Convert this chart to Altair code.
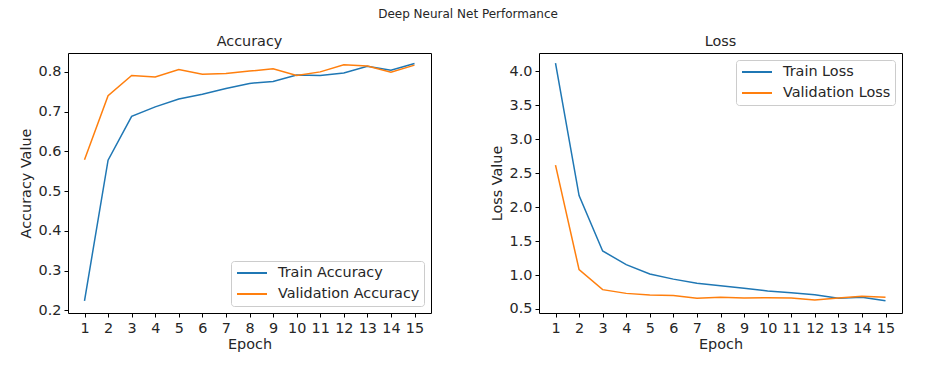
import altair as alt
import pandas as pd

epochs = list(range(1, 16))
train_acc = [0.224, 0.578, 0.688, 0.712, 0.732, 0.744, 0.758, 0.771, 0.776, 0.792, 0.791, 0.797, 0.814, 0.804, 0.821]
val_acc = [0.579, 0.740, 0.791, 0.787, 0.806, 0.794, 0.796, 0.802, 0.808, 0.791, 0.800, 0.818, 0.815, 0.799, 0.817]
train_loss = [4.12, 2.17, 1.355, 1.153, 1.016, 0.94, 0.878, 0.844, 0.804, 0.766, 0.74, 0.71, 0.657, 0.672, 0.623]
val_loss = [2.62, 1.08, 0.785, 0.73, 0.707, 0.70, 0.657, 0.672, 0.663, 0.667, 0.663, 0.634, 0.663, 0.686, 0.672]

acc_names = ["Train Accuracy", "Validation Accuracy"]
loss_names = ["Train Loss", "Validation Loss"]
acc_ticks = [0.2, 0.3, 0.4, 0.5, 0.6, 0.7, 0.8]
loss_ticks = [0.5, 1.0, 1.5, 2.0, 2.5, 3.0, 3.5, 4.0]
colors = ["#1f77b4", "#ff7f0e"]

FONT = "DejaVu Sans"
TXT = "#262626"
FS = 14.4

acc_df = pd.DataFrame({
    "Epoch": epochs * 2,
    "Value": train_acc + val_acc,
    "Series": [acc_names[0]] * 15 + [acc_names[1]] * 15,
})
loss_df = pd.DataFrame({
    "Epoch": epochs * 2,
    "Value": train_loss + val_loss,
    "Series": [loss_names[0]] * 15 + [loss_names[1]] * 15,
})


def panel(df, names, title, ytitle, ydomain, yticks, lorient):
    return alt.Chart(df).mark_line(strokeWidth=1.5).encode(
        x=alt.X("Epoch:Q",
                scale=alt.Scale(domain=[0.3, 15.7], nice=False, zero=False),
                axis=alt.Axis(values=epochs, format="d", title="Epoch",
                              labelPadding=4, titlePadding=3)),
        y=alt.Y("Value:Q",
                scale=alt.Scale(domain=ydomain, nice=False, zero=False),
                axis=alt.Axis(values=yticks, format=".1f", title=ytitle)),
        color=alt.Color("Series:N",
                        scale=alt.Scale(domain=names, range=colors),
                        legend=alt.Legend(
                            title=None, orient=lorient, offset=7,
                            symbolType="stroke", symbolSize=900, symbolStrokeWidth=2,
                            labelFontSize=FS, labelFont=FONT, labelColor=TXT,
                            labelOffset=10, padding=4, rowPadding=5, clipHeight=16,
                            symbolOffset=1,
                            strokeColor="#cccccc", fillColor="white", cornerRadius=3,
                        )),
    ).properties(
        width=363, height=260,
        title=alt.TitleParams(title, fontSize=FS, font=FONT, fontWeight="normal",
                              color=TXT, anchor="middle", offset=4),
    )


left = panel(acc_df, acc_names, "Accuracy", "Accuracy Value", [0.1935, 0.8475], acc_ticks, "bottom-right")
right = panel(loss_df, loss_names, "Loss", "Loss Value", [0.441, 4.27], loss_ticks, "top-right")

chart = alt.hconcat(left, right, spacing=56).resolve_scale(
    color="independent"
).properties(
    title=alt.TitleParams("Deep Neural Net Performance", fontSize=12, font=FONT,
                          fontWeight="normal", color=TXT, anchor="middle", offset=12,
                          dx=8),
    padding={"left": 9, "top": 0, "right": 5, "bottom": 5},
).configure_view(
    stroke="black", strokeWidth=1
).configure_axis(
    labelFont=FONT, labelFontSize=FS, labelColor=TXT,
    titleFont=FONT, titleFontSize=FS, titleFontWeight="normal", titleColor=TXT,
    tickColor="black", tickSize=4, tickWidth=1,
    domain=False, grid=False, labelPadding=3, titlePadding=5,
)

chart.save("out.html", embed_options={"renderer": "svg", "actions": False})
